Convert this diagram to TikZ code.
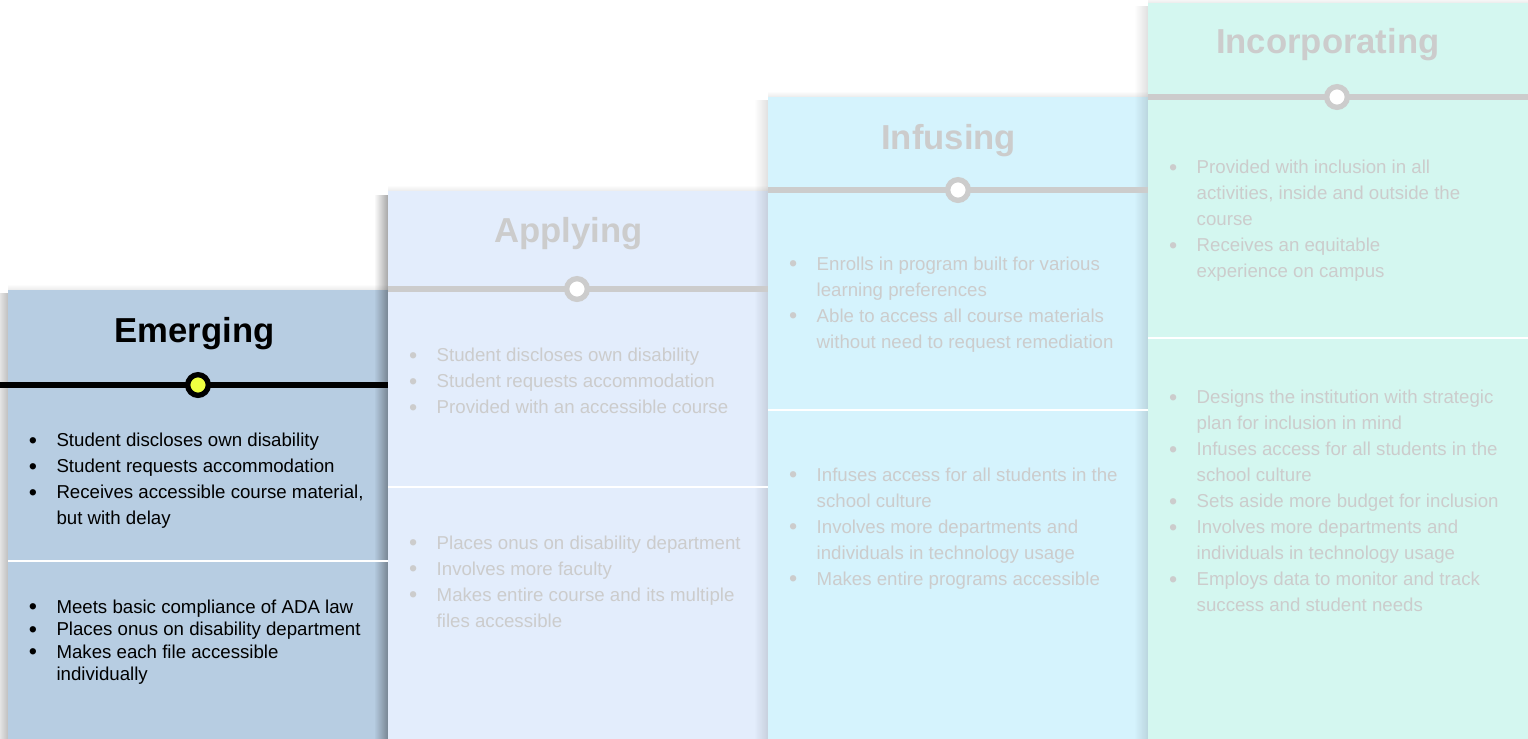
\documentclass[tikz,border=0pt]{standalone}
\usepackage{fontspec}
\setmainfont{Liberation Sans}
\usetikzlibrary{fadings}
\definecolor{emergfill}{HTML}{B7CDE2}
\definecolor{applyfill}{HTML}{E3EDFC}
\definecolor{infusefill}{HTML}{D5F3FD}
\definecolor{incorpfill}{HTML}{D4F7F0}
\definecolor{faded}{HTML}{CCCCCC}
\definecolor{markyellow}{HTML}{EEFF41}
\tikzfading[name=sidefade, left color=transparent!100, right color=transparent!0]
\tikzfading[name=topfade, top color=transparent!100, bottom color=transparent!0]
\newcommand{\bl}{\llap{\raisebox{-0.9pt}{\scalebox{1.25}{\textbullet}}\hspace{14.6pt}}}

\begin{document}
\begin{tikzpicture}
  [x=0.75pt,y=-0.75pt,every node/.style={inner sep=0pt,outer sep=0pt},
   title/.style={font=\fontsize{26pt}{30pt}\selectfont\bfseries,anchor=base},
   items/.style={font=\fontsize{14pt}{19.5pt}\selectfont,align=left,anchor=north west},
   blackline/.style={line width=4.4pt,black},
   grayline/.style={line width=4.2pt,faded},
   ring/.style={circle,line width=4pt,minimum size=15.5pt}]
  \useasboundingbox (0,0) rectangle (1528,739);

  \foreach \l/\t/\c in {8/290/emergfill,388/191/applyfill,768/97/infusefill,1148/3/incorpfill}
    \fill[\c] (\l,\t) rectangle (\l+380,739);
  \foreach \l/\t/\o in {8/290/0.25,388/191/0.35,768/97/0.12,1148/3/0.12}{
    \fill[black,opacity=\o,path fading=sidefade] (\l-14,\t+3) rectangle (\l,739);
    \fill[black,opacity=0.08,path fading=topfade] (\l,\t-6) rectangle (\l+380,\t);
  }
  \foreach \l/\s in {8/561,388/487,768/410,1148/338}
    \draw[white,line width=1.5pt] (\l,\s) -- (\l+380,\s);

  \coordinate (e-l) at (0,385);    \coordinate (e-r) at (388,385);
  \coordinate (a-l) at (388,289);  \coordinate (a-r) at (768,289);
  \coordinate (i-l) at (768,190);  \coordinate (i-r) at (1148,190);
  \coordinate (c-l) at (1148,97);  \coordinate (c-r) at (1528,97);
  \draw[blackline] (e-l) -- (e-r);
  \foreach \n in {a,i,c}
    \draw[grayline] (\n-l) -- (\n-r);
  \node[ring,draw=black,fill=markyellow] (e-dot) at (198,385) {};
  \node[ring,draw=faded,fill=white] (a-dot) at (577,289) {};
  \node[ring,draw=faded,fill=white] (i-dot) at (958,190) {};
  \node[ring,draw=faded,fill=white] (c-dot) at (1337,97) {};

  \node[title] (e-title) at (194.5,342.7) {Emerging};
  \node[title,faded] (a-title) at (568.3,242.7) {Applying};
  \node[title,faded] (i-title) at (948.7,149) {Infusing};
  \node[title,faded] (c-title) at (1327.8,53.3) {Incorporating};

  \node[items] (e-top) at (56.5,433.3)
    {\bl Student discloses own disability\\
     \bl Student requests accommodation\\
     \bl Receives accessible course material,\\
     but with delay};
  \node[items,font=\fontsize{14pt}{16.7pt}\selectfont] (e-bot) at (56.5,600)
    {\bl Meets basic compliance of ADA law\\
     \bl Places onus on disability department\\
     \bl Makes each file accessible\\
     individually};

  \node[items,faded] (a-top) at (436.7,348.3)
    {\bl Student discloses own disability\\
     \bl Student requests accommodation\\
     \bl Provided with an accessible course};
  \node[items,faded] (a-bot) at (436.7,535.9)
    {\bl Places onus on disability department\\
     \bl Involves more faculty\\
     \bl Makes entire course and its multiple\\
     files accessible};

  \node[items,faded] (i-top) at (816.7,256.6)
    {\bl Enrolls in program built for various\\
     learning preferences\\
     \bl Able to access all course materials\\
     without need to request remediation};
  \node[items,faded] (i-bot) at (816.7,467.6)
    {\bl Infuses access for all students in the\\
     school culture\\
     \bl Involves more departments and\\
     individuals in technology usage\\
     \bl Makes entire programs accessible};

  \node[items,faded] (c-top) at (1196.7,160.3)
    {\bl Provided with inclusion in all\\
     activities, inside and outside the\\
     course\\
     \bl Receives an equitable\\
     experience on campus};
  \node[items,faded] (c-bot) at (1196.7,390.3)
    {\bl Designs the institution with strategic\\
     plan for inclusion in mind\\
     \bl Infuses access for all students in the\\
     school culture\\
     \bl Sets aside more budget for inclusion\\
     \bl Involves more departments and\\
     individuals in technology usage\\
     \bl Employs data to monitor and track\\
     success and student needs};
\end{tikzpicture}
\end{document}
